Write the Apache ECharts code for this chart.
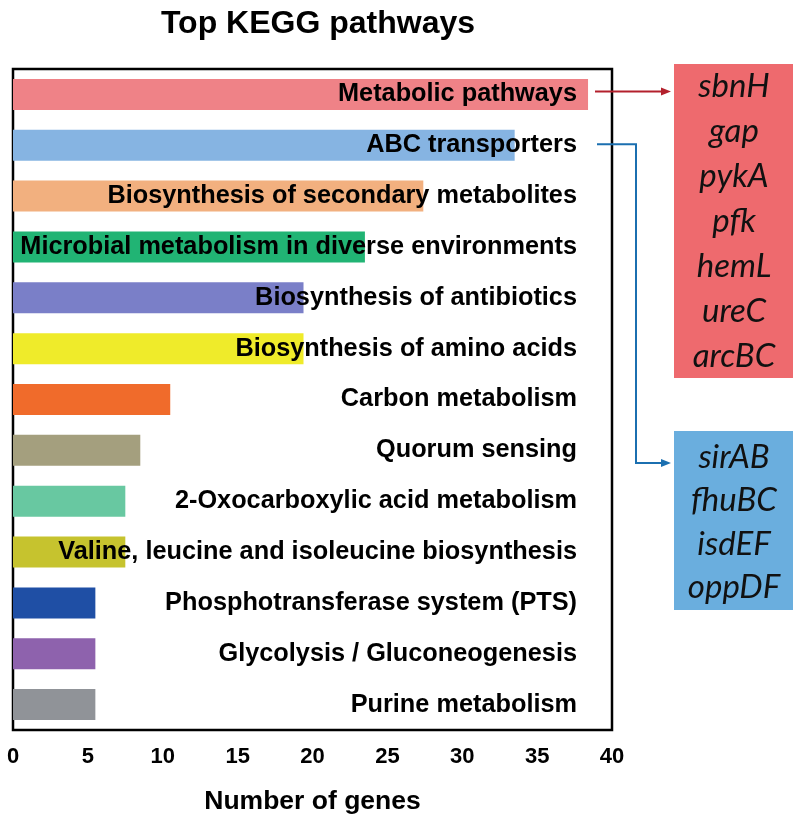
<!DOCTYPE html>
<html>
<head>
<meta charset="utf-8">
<script src="https://cdn.jsdelivr.net/npm/echarts@6/dist/echarts.min.js"></script>
<style>
    html, body { margin: 0; padding: 0; background: #fff; }
    #main { width: 800px; height: 821px; }
</style>
</head>
<body>
<div id="main"></div>
<script>
// categories, top to bottom
var pathways = [
    'Metabolic pathways',
    'ABC transporters',
    'Biosynthesis of secondary metabolites',
    'Microbial metabolism in diverse environments',
    'Biosynthesis of antibiotics',
    'Biosynthesis of amino acids',
    'Carbon metabolism',
    'Quorum sensing',
    '2-Oxocarboxylic acid metabolism',
    'Valine, leucine and isoleucine biosynthesis',
    'Phosphotransferase system (PTS)',
    'Glycolysis / Gluconeogenesis',
    'Purine metabolism'
]
var geneCounts = [38.4, 33.5, 27.4, 23.5, 19.4, 19.4, 10.5, 8.5, 7.5, 7.5, 5.5, 5.5, 5.5]
var barColors = ['#ef8287', '#86b4e2', '#f2b07f', '#21b474', '#7a7fc8', '#efeb2a', '#f06b2b',
    '#a49f7e', '#68c8a1', '#c6c32e', '#1f4fa5', '#8e62ad', '#909398']
var xTicks = [0, 5, 10, 15, 20, 25, 30, 35, 40]

// gene boxes on the right
var metabolicGenes = ['sbnH', 'gap', 'pykA', 'pfk', 'hemL', 'ureC', 'arcBC']
var abcGenes = ['sirAB', 'fhuBC', 'isdEF', 'oppDF']

var chart = echarts.init(document.getElementById('main'))

var option = {
    animation: false,
    backgroundColor: '#fff',
    title: {
        text: 'Top KEGG pathways',
        left: 313,
        top: 3,
        textAlign: 'center',
        textStyle: {
            fontFamily: 'Liberation Sans',
            fontWeight: 'bold',
            fontSize: 32,
            color: '#000'
        }
    },
    grid: {
        show: true,
        left: 13,
        right: 188,
        top: 69,
        bottom: 91,
        borderColor: '#000',
        borderWidth: 2.5,
        backgroundColor: 'transparent'
    },
    xAxis: {
        type: 'value',
        min: xTicks[0],
        max: xTicks[xTicks.length - 1],
        interval: 5,
        axisLine: { show: false },
        axisTick: { show: false },
        splitLine: { show: false },
        axisLabel: {
            margin: 16,
            fontFamily: 'Liberation Sans',
            fontWeight: 'bold',
            fontSize: 22,
            color: '#000'
        },
        name: 'Number of genes',
        nameLocation: 'middle',
        nameGap: 58,
        nameTextStyle: {
            fontFamily: 'Liberation Sans',
            fontWeight: 'bold',
            fontSize: 26.5,
            color: '#000'
        }
    },
    yAxis: {
        type: 'category',
        data: pathways,
        inverse: true,
        position: 'right',
        axisLine: { show: false },
        axisTick: { show: false },
        splitLine: { show: false },
        axisLabel: {
            inside: true,
            margin: 35,
            fontFamily: 'Liberation Sans',
            fontWeight: 'bold',
            fontSize: 25.3,
            color: '#000'
        },
        z: 5
    },
    series: [{
        type: 'bar',
        data: geneCounts.map(function (v, i) {
            return { value: v, itemStyle: { color: barColors[i] } }
        }),
        barWidth: 31,
        z: 1
    }]
}
chart.setOption(option)

// 注释框和箭头
var redY = chart.convertToPixel({ yAxisIndex: 0 }, pathways[0]) - 3
var blueY = chart.convertToPixel({ yAxisIndex: 0 }, pathways[1]) - 1
var graphics = []

graphics.push({
    type: 'rect', shape: { x: 674, y: 64, width: 119, height: 314 },
    style: { fill: '#ee6a6e' }
})
graphics.push({
    type: 'rect', shape: { x: 674, y: 431, width: 119, height: 179 },
    style: { fill: '#6aaede' }
})
metabolicGenes.forEach(function (g, i) {
    graphics.push({
        type: 'text', x: 734, y: 86 + i * 45,
        style: {
            text: g, fontFamily: 'Lato', fontStyle: 'italic', fontSize: 33,
            fill: '#111', align: 'center', verticalAlign: 'middle'
        }
    })
})
abcGenes.forEach(function (g, i) {
    graphics.push({
        type: 'text', x: 734, y: 457 + i * 43.5,
        style: {
            text: g, fontFamily: 'Lato', fontStyle: 'italic', fontSize: 33,
            fill: '#111', align: 'center', verticalAlign: 'middle'
        }
    })
})

// red arrow
graphics.push({
    type: 'polyline', shape: { points: [[595, redY], [664, redY]] },
    style: { stroke: '#b3202c', lineWidth: 2, fill: null }, z: 10
})
graphics.push({
    type: 'polygon', shape: { points: [[671, redY], [661, redY - 4], [661, redY + 4]] },
    style: { fill: '#b3202c' }, z: 10
})
// blue arrow
graphics.push({
    type: 'polyline', shape: { points: [[597, blueY], [636, blueY], [636, 463], [664, 463]] },
    style: { stroke: '#1b6fb0', lineWidth: 2, fill: null }, z: 10
})
graphics.push({
    type: 'polygon', shape: { points: [[671, 463], [661, 459], [661, 467]] },
    style: { fill: '#1b6fb0' }, z: 10
})

chart.setOption({ graphic: graphics })
</script>
</body>
</html>
